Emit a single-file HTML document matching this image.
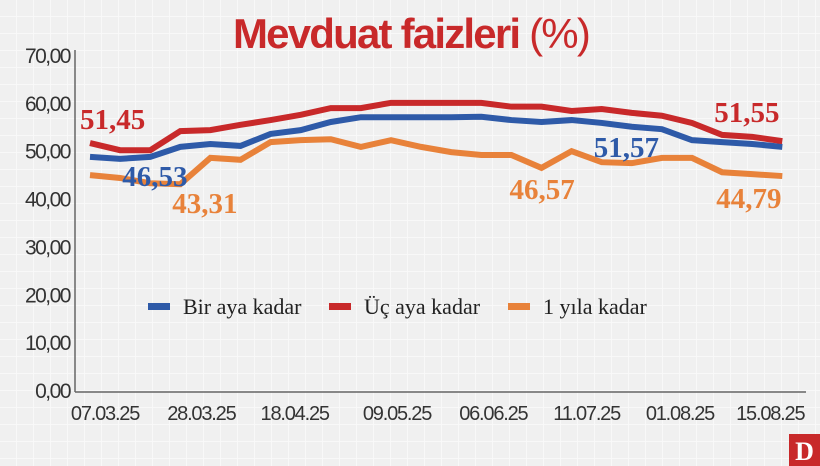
<!DOCTYPE html>
<html><head><meta charset="utf-8"><style>
body{margin:0;background:#f2f2f2;}
svg{display:block;font-family:"Liberation Sans",sans-serif;}
</style></head><body>
<svg id="chart" width="820" height="466" viewBox="0 0 820 466">
<defs><pattern id="grid" width="17" height="17" patternUnits="userSpaceOnUse"><path d="M17 0V17H0" fill="none" stroke="#fafafa" stroke-width="1.5"/></pattern></defs>
<rect width="820" height="466" fill="#f0f0f0"/>
<rect width="820" height="466" fill="url(#grid)"/>
<text x="411" y="48" text-anchor="middle" font-size="42" font-weight="bold" fill="#c8292a" letter-spacing="-1.8">Mevduat faizleri <tspan font-weight="normal">(%)</tspan></text>
<g id="yaxis"></g>
<g id="xaxis"></g>
<g id="series"></g>
<g id="legend"></g>
<rect x="789" y="434" width="31" height="32" fill="#c8292a"/>
<text x="804.5" y="460" text-anchor="middle" font-family="Liberation Serif,serif" font-weight="bold" font-size="26" fill="#fff">D</text>
</svg>
<script>
const yTicks=[0,10,20,30,40,50,60,70];
const yTickLabels=["0,00","10,00","20,00","30,00","40,00","50,00","60,00","70,00"];
const xTickLabels=["07.03.25","28.03.25","18.04.25","09.05.25","06.06.25","11.07.25","01.08.25","15.08.25"];
const xTickIdx=[0.5,3.7,6.8,10.2,13.4,16.5,19.6,22.6];
const birAya=[48.7,48.3,48.7,50.8,51.4,51.0,53.5,54.3,56.0,57.0,57.0,57.0,57.0,57.1,56.4,56.0,56.4,55.8,55.0,54.5,52.2,51.8,51.4,50.8];
const ucAya=[51.6,50.1,50.1,54.1,54.3,55.4,56.4,57.5,58.9,58.9,60.0,60.0,60.0,60.0,59.2,59.2,58.3,58.7,57.9,57.3,55.8,53.3,52.9,52.0];
const birYila=[44.9,44.3,43.2,43.0,48.5,48.1,51.8,52.2,52.4,50.8,52.2,50.8,49.7,49.1,49.1,46.4,49.9,47.6,47.4,48.5,48.5,45.5,45.1,44.7];
const seriesNames=["Bir aya kadar","Üç aya kadar","1 yıla kadar"];
const colors=["#2e5aa8","#c8292a","#e8823a"];
const callouts=[
 {s:1,i:0,t:"51,45",dx:-10,dy:-14},{s:0,i:2,t:"46,53",dx:-28,dy:29},{s:2,i:3,t:"43,31",dx:-8,dy:29},
 {s:2,i:15,t:"46,57",dx:-32,dy:31},{s:0,i:17,t:"51,57",dx:-8,dy:34},{s:1,i:22,t:"51,55",dx:-38,dy:-15},{s:2,i:23,t:"44,79",dx:-66,dy:32}];
const NS="http://www.w3.org/2000/svg";
const x=i=>90+i*30.1;
const y=v=>390-v*4.786;
function mk(tag,attrs,parent,text){const e=document.createElementNS(NS,tag);for(const k in attrs)e.setAttribute(k,attrs[k]);if(text!==undefined)e.textContent=text;parent.appendChild(e);return e;}
const ya=document.getElementById('yaxis'),xa=document.getElementById('xaxis'),sg=document.getElementById('series'),lg=document.getElementById('legend');
let l=mk('line',{x1:75,y1:50,x2:75,y2:392,stroke:'#666','stroke-width':1.5},ya);

l=mk('line',{x1:75,y1:392,x2:806,y2:392,stroke:'#666','stroke-width':1.5},xa);

yTicks.forEach((v,k)=>{const t=mk('text',{x:70,y:y(v)+8,'text-anchor':'end','font-size':21,fill:'#333','letter-spacing':'-1.5'},ya,yTickLabels[k]);
});
xTickLabels.forEach((s,k)=>{const t=mk('text',{x:x(xTickIdx[k]),y:420,'text-anchor':'middle','font-size':20,fill:'#333','letter-spacing':'-1.2'},xa,s);
});
[birAya,ucAya,birYila].forEach((d,s)=>{const p=mk('polyline',{points:d.map((v,i)=>x(i)+','+y(v)).join(' '),fill:'none',stroke:colors[s],'stroke-width':6,'stroke-linejoin':'miter'},sg);
});
const all=[birAya,ucAya,birYila];
callouts.forEach(c=>{const t=mk('text',{x:x(c.i)+c.dx,y:y(all[c.s][c.i])+c.dy,'font-family':'Liberation Serif,serif','font-weight':'bold','font-size':29,fill:colors[c.s]},sg,c.t);
});
const lx=[148,329,508];
seriesNames.forEach((n,s)=>{const r=mk('rect',{x:lx[s],y:303,width:22,height:7,fill:colors[s]},lg);

const t=mk('text',{x:lx[s]+35,y:314,'font-family':'Liberation Serif,serif','font-size':22,fill:'#222'},lg,n);
});
</script>
</body></html>
